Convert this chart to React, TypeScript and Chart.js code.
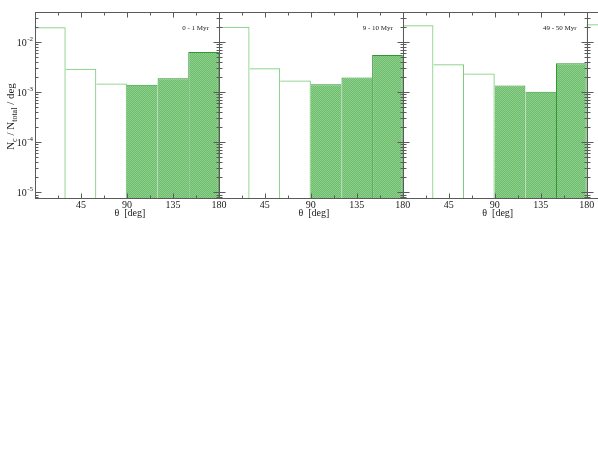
import React, { useEffect, useRef } from 'react';
import { Chart, registerables } from 'chart.js';

Chart.register(...registerables);

// ---- data ----
const panelLabels = ['0 - 1 Myr', '9 - 10 Myr', '49 - 50 Myr'];
const binCenters = [15, 45, 75, 105, 135, 165];
const panel1 = [0.0194, 0.0029, 0.00148, 0.00139, 0.00187, 0.00624];
const panel2 = [0.0199, 0.00295, 0.0017, 0.00142, 0.00195, 0.00543];
const panel3 = [0.0212, 0.00355, 0.00234, 0.00135, 0.00101, 0.00372];
const panel4 = [0.0222]; // only the first bin of a fourth panel is visible at the right edge
const filledBins = [false, false, false, true, true, true];
const xTickLabels = [45, 90, 135, 180];
const yTickExponents = [-5, -4, -3, -2];

const panels = [panel1, panel2, panel3, panel4];
const PANEL_SPAN = 180;
const X_MAX = 551.1;
const Y_MIN = 7.39e-6;
const Y_MAX = 0.0391;

const FONT = "'Liberation Serif', 'DejaVu Serif', 'Times New Roman', serif";
const OPEN_BORDER = 'rgb(118,200,118)';
const FILL_BORDER = 'rgb(48,150,48)';

function valueAt(p: number, i: number): number | null {
  const arr = panels[p];
  if (!arr || i < 0 || i >= arr.length) return null;
  return arr[i];
}

function borderFor(ctx: any) {
  const raw = ctx.raw;
  if (!raw) return 1;
  const p = Math.floor(raw.x / PANEL_SPAN);
  const i = binCenters.indexOf(raw.x - p * PANEL_SPAN);
  const v = raw.y;
  const prev = valueAt(p, i - 1);
  const next = valueAt(p, i + 1);
  return {
    top: 1,
    bottom: 0,
    left: prev === null || v >= prev ? 1 : 0,
    right: next === null || v > next ? 1 : 0,
  };
}

function buildPoints(filled: boolean) {
  const pts: { x: number; y: number }[] = [];
  panels.forEach((arr, p) => {
    arr.forEach((v, i) => {
      if (filledBins[i] === filled) pts.push({ x: p * PANEL_SPAN + binCenters[i], y: v });
    });
  });
  return pts;
}

function makePattern(): CanvasPattern | string {
  const c = document.createElement('canvas');
  c.width = 2;
  c.height = 2;
  const g = c.getContext('2d');
  if (!g) return 'rgb(122,198,122)';
  g.fillStyle = 'rgb(110,189,110)';
  g.fillRect(0, 0, 2, 2);
  g.fillStyle = 'rgb(140,208,140)';
  g.fillRect(0, 0, 1, 1);
  g.fillRect(1, 1, 1, 1);
  const pat = g.createPattern(c, 'repeat');
  return pat || 'rgb(122,198,122)';
}

const decorPlugin = {
  id: 'decor',
  afterDatasetsDraw(chart: any) {
    const { ctx, chartArea: ca } = chart;
    const xs = chart.scales.x;
    const ys = chart.scales.y;
    const px = (v: number) => Math.round(xs.getPixelForValue(v)) + 0.5;
    const py = (v: number) => Math.round(ys.getPixelForValue(v)) + 0.5;
    const top = Math.round(ca.top) + 0.5;
    const bot = Math.round(ca.bottom) - 0.5;

    ctx.save();
    ctx.strokeStyle = '#5a5a5a';
    ctx.lineWidth = 1;
    ctx.beginPath();
    ctx.moveTo(ca.left, top);
    ctx.lineTo(ca.right, top);
    ctx.moveTo(ca.left, bot);
    ctx.lineTo(ca.right, bot);
    const nAxes = Math.floor(X_MAX / PANEL_SPAN);
    for (let p = 0; p <= nAxes; p++) {
      const xx = px(p * PANEL_SPAN);
      ctx.moveTo(xx, top);
      ctx.lineTo(xx, bot);
    }
    // x ticks (inward, top and bottom)
    for (let v = 22.5; v < X_MAX; v += 22.5) {
      if (v % PANEL_SPAN === 0) continue;
      const len = v % 45 === 0 ? 5 : 3;
      const xx = px(v);
      ctx.moveTo(xx, top);
      ctx.lineTo(xx, top + len);
      ctx.moveTo(xx, bot);
      ctx.lineTo(xx, bot - len);
    }
    // y ticks on every vertical axis (inward on both sides)
    for (let p = 0; p <= nAxes; p++) {
      const xx = px(p * PANEL_SPAN);
      for (let e = -6; e <= -1; e++) {
        for (let m = 1; m <= 9; m++) {
          const val = m * Math.pow(10, e);
          if (val < Y_MIN || val > Y_MAX) continue;
          const len = m === 1 ? 6 : 3;
          const yy = py(val);
          ctx.moveTo(xx, yy);
          ctx.lineTo(xx + len, yy);
          if (p > 0) {
            ctx.moveTo(xx, yy);
            ctx.lineTo(xx - len, yy);
          }
        }
      }
    }
    ctx.stroke();

    // text
    ctx.fillStyle = '#1a1a1a';
    for (let p = 0; p < 3; p++) {
      ctx.font = `10px ${FONT}`;
      ctx.textAlign = 'center';
      ctx.textBaseline = 'top';
      xTickLabels.forEach((L) => {
        const v = p * PANEL_SPAN + L;
        if (v <= X_MAX) ctx.fillText(String(L), xs.getPixelForValue(v), ca.bottom + 1);
      });
      // x title
      const cx = xs.getPixelForValue(p * PANEL_SPAN + 90) + 3;
      ctx.fillText('\u03b8  [deg]', cx, ca.bottom + 9);
      // annotation
      ctx.save();
      ctx.font = `7px ${FONT}`;
      ctx.textAlign = 'right';
      ctx.textBaseline = 'middle';
      ctx.fillText(panelLabels[p], xs.getPixelForValue((p + 1) * PANEL_SPAN) - 10, 28);
      ctx.restore();
    }

    // y tick labels: 10^e
    yTickExponents.forEach((e) => {
      const yy = ys.getPixelForValue(Math.pow(10, e));
      const right = ca.left - 2;
      ctx.font = `7px ${FONT}`;
      const sup = '-' + String(-e);
      const sw = ctx.measureText(sup).width;
      ctx.textAlign = 'left';
      ctx.textBaseline = 'alphabetic';
      ctx.fillText(sup, right - sw, yy - 1);
      ctx.font = `10px ${FONT}`;
      const bw = ctx.measureText('10').width;
      ctx.fillText('10', right - sw - bw - 0.5, yy + 4);
    });

    // y axis title with subscripts
    ctx.save();
    const midY = (ca.top + ca.bottom) / 2 + 11;
    ctx.translate(14, midY);
    ctx.rotate(-Math.PI / 2);
    const parts: [string, boolean][] = [
      ['N', false], ['c', true], [' / N', false], ['total', true], [' / deg', false],
    ];
    let total = 0;
    parts.forEach(([t, sub]) => {
      ctx.font = sub ? `8px ${FONT}` : `11px ${FONT}`;
      total += ctx.measureText(t).width;
    });
    let cur = -total / 2;
    ctx.textAlign = 'left';
    ctx.textBaseline = 'alphabetic';
    parts.forEach(([t, sub]) => {
      ctx.font = sub ? `8px ${FONT}` : `11px ${FONT}`;
      ctx.fillText(t, cur, sub ? 3 : 0);
      cur += ctx.measureText(t).width;
    });
    ctx.restore();

    ctx.restore();
  },
};

export default function App() {
  const ref = useRef<HTMLCanvasElement | null>(null);

  useEffect(() => {
    const canvas = ref.current;
    if (!canvas) return;
    const pattern = makePattern();
    const chart = new Chart(canvas, {
      type: 'bar',
      data: {
        datasets: [
          {
            label: 'filled',
            data: buildPoints(true),
            backgroundColor: pattern as any,
            borderColor: FILL_BORDER,
            borderWidth: borderFor as any,
            borderSkipped: false,
            grouped: false,
            barPercentage: 1,
            categoryPercentage: 1,
            inflateAmount: 0,
          } as any,
          {
            label: 'open',
            data: buildPoints(false),
            backgroundColor: 'rgba(255,255,255,0)',
            borderColor: OPEN_BORDER,
            borderWidth: borderFor as any,
            borderSkipped: false,
            grouped: false,
            barPercentage: 1,
            categoryPercentage: 1,
            inflateAmount: 0,
          } as any,
        ],
      },
      options: {
        responsive: false,
        animation: false,
        devicePixelRatio: 1,
        layout: { padding: { left: 35, top: 12, right: 0, bottom: 263 } },
        plugins: { legend: { display: false }, tooltip: { enabled: false } },
        scales: {
          x: { type: 'linear', min: 0, max: X_MAX, display: false, offset: false },
          y: { type: 'logarithmic', min: Y_MIN, max: Y_MAX, display: false },
        },
      },
      plugins: [decorPlugin],
    });
    return () => chart.destroy();
  }, []);

  return (
    <div style={{ position: 'fixed', left: 0, top: 0, width: 598, height: 462, background: '#fff' }}>
      <canvas ref={ref} width={598} height={462} style={{ display: 'block' }} />
    </div>
  );
}
